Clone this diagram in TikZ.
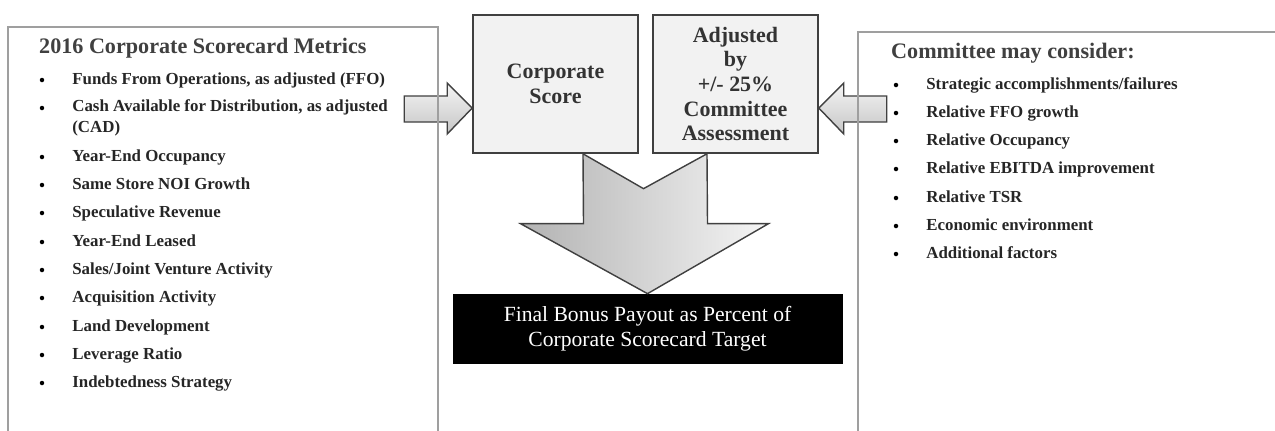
\documentclass[tikz,border=0pt]{standalone}
\usepackage{fontspec}
\setmainfont{Liberation Serif}
\usetikzlibrary{positioning,calc}

\begin{document}
\begin{tikzpicture}[x=0.02cm, y=-0.02cm,
    panel/.style={draw=gray!75, line width=0.9pt},
    scorebox/.style={draw=black!75, fill=gray!10, line width=0.9pt, minimum width=3.3cm, minimum height=2.76cm, align=center, text=black!80, font=\bfseries\fontsize{12.5}{14}\selectfont},
    payoutbox/.style={draw=black, fill=black, minimum width=7.78cm, minimum height=1.38cm, align=center, text=white, font=\fontsize{12.3}{14}\selectfont},
    blockarrow/.style={draw=black!75, line width=0.8pt},
    heading/.style={anchor=base west, text=black!75, font=\bfseries\fontsize{12.6}{14}\selectfont},
    item/.style={anchor=base west, align=left, inner sep=0pt, text=black!85, font=\bfseries\fontsize{9.6}{11.4}\selectfont},
    dot/.style={circle, fill=black, inner sep=0pt, minimum size=0.09cm}]
  \clip (0,0) rectangle (1275,430);
  \fill[white] (0,0) rectangle (1275,430);

  % centre boxes
  \node[scorebox] (score) at (555.5,84) {Corporate\\Score};
  \node[scorebox] (adjusted) at (735.5,84) {Adjusted\\by\\+/- 25\%\\Committee\\Assessment};
  \node[payoutbox] (payout) at (647.5,328.5) {Final Bonus Payout as Percent of\\Corporate Scorecard Target};

  % block arrows
  \coordinate (ltip) at ($(score.west)+(0,24)$);
  \coordinate (rtip) at ($(adjusted.east)+(0,24)$);
  \coordinate (dtip) at (payout.north);
  \draw[blockarrow, top color=gray!8, bottom color=gray!45]
    ($(ltip)+(-68,-12)$) -- ($(ltip)+(-25,-12)$) -- ($(ltip)+(-25,-25)$) -- (ltip)
    -- ($(ltip)+(-25,26)$) -- ($(ltip)+(-25,14)$) -- ($(ltip)+(-68,14)$) -- cycle;
  \draw[blockarrow, top color=gray!8, bottom color=gray!45]
    ($(rtip)+(68,-12)$) -- ($(rtip)+(25,-12)$) -- ($(rtip)+(25,-25)$) -- (rtip)
    -- ($(rtip)+(25,26)$) -- ($(rtip)+(25,14)$) -- ($(rtip)+(68,14)$) -- cycle;
  \draw[blockarrow, left color=gray!60, right color=gray!8]
    (score.south -| 583,0) -- ($(dtip)+(-4,-105)$) -- (adjusted.south -| 707,0)
    -- ($(dtip)+(60,-70)$) -- ($(dtip)+(121,-70)$) -- (dtip)
    -- ($(dtip)+(-127,-70)$) -- ($(dtip)+(-64,-70)$) -- cycle;

  % side panels
  \draw[panel] (8,440) |- (438,27) -- (438,440);
  \draw[panel] (858,440) |- (1290,32);

  % scorecard metrics
  \node[heading] (metrics) at (33,53) {2016 Corporate Scorecard Metrics};
  \foreach \y/\t in {80/{Funds From Operations, as adjusted (FFO)},
      157/{Year-End Occupancy}, 185/{Same Store NOI Growth},
      213/{Speculative Revenue}, 242/{Year-End Leased},
      270/{Sales/Joint Venture Activity}, 298/{Acquisition Activity},
      327/{Land Development}, 355/{Leverage Ratio},
      383/{Indebtedness Strategy}}{
    \node[dot] at (42,\y) {};
    \node[item] at (72,\y+4) {\t};
  }
  \node[dot] at (42,108) {};
  \node[item] (cad) at (72,132) {Cash Available for Distribution, as adjusted\\(CAD)};

  % committee factors
  \node[heading] (committee) at (885,58) {Committee may consider:};
  \foreach \y/\t in {85/{Strategic accomplishments/failures}, 113/{Relative FFO growth},
      141/{Relative Occupancy}, 169/{Relative EBITDA improvement},
      198/{Relative TSR}, 226/{Economic environment}, 254/{Additional factors}}{
    \node[dot] at (896,\y) {};
    \node[item] at (926,\y+4) {\t};
  }
\end{tikzpicture}
\end{document}
